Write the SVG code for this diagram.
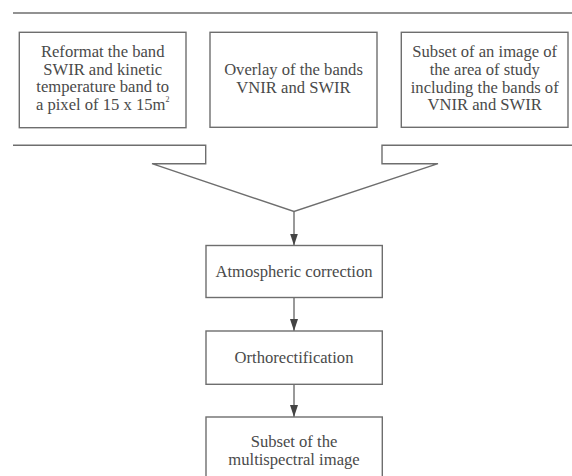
<svg xmlns="http://www.w3.org/2000/svg" width="572" height="476" viewBox="0 0 572 476">
<style>
.box{fill:#fff;stroke:#6e6e6e;stroke-width:1.4}
.ln{fill:none;stroke:#6e6e6e;stroke-width:1.4}
.t{font-family:"Liberation Serif","Times New Roman",serif;font-size:16.6px;fill:#4a4a4a;text-anchor:middle}
</style>
<defs>
<marker id="ah" viewBox="0 0 12 8" refX="12" refY="4" markerWidth="12" markerHeight="8" markerUnits="userSpaceOnUse" orient="auto">
<path d="M0,0 L12,4 L0,8 z" fill="#444"/>
</marker>
</defs>
<rect width="572" height="476" fill="#fff"/>
<g id="connectors">
<line class="ln" x1="13" y1="13" x2="572" y2="13"/>
<polyline class="ln" points="13,145.3 205.7,145.3 205.7,163.7 152,163.7 294,211.5 438,163.7 382,163.7 382,145.3 572,145.3"/>
<line class="ln" x1="294" y1="211.5" x2="294" y2="245.5" marker-end="url(#ah)"/>
<line class="ln" x1="294" y1="297.5" x2="294" y2="331" marker-end="url(#ah)"/>
<line class="ln" x1="294" y1="384.3" x2="294" y2="417" marker-end="url(#ah)"/>
</g>
<g id="n1">
<rect class="box" x="19.3" y="32.3" width="166.7" height="95.4"/>
<text class="t" x="102.7" y="57.3">Reformat the band</text>
<text class="t" x="102.7" y="74.8">SWIR and kinetic</text>
<text class="t" x="102.7" y="92.3">temperature band to</text>
<text class="t" x="102.7" y="109.8">a pixel of 15 x 15m<tspan font-size="8" dy="-8">2</tspan></text>
</g>
<g id="n2">
<rect class="box" x="210" y="32.3" width="167" height="95"/>
<text class="t" x="293.5" y="75">Overlay of the bands</text>
<text class="t" x="293.5" y="93">VNIR and SWIR</text>
</g>
<g id="n3">
<rect class="box" x="401.3" y="32.3" width="166.7" height="95"/>
<text class="t" x="484.7" y="57.3">Subset of an image of</text>
<text class="t" x="484.7" y="75">the area of study</text>
<text class="t" x="484.7" y="92.5">including the bands of</text>
<text class="t" x="484.7" y="110">VNIR and SWIR</text>
</g>
<g id="n4">
<rect class="box" x="206" y="245.5" width="176.3" height="52"/>
<text class="t" x="294" y="276.5">Atmospheric correction</text>
</g>
<g id="n5">
<rect class="box" x="206" y="331" width="176.3" height="53.3"/>
<text class="t" x="294" y="363.3">Orthorectification</text>
</g>
<g id="n6">
<rect class="box" x="206" y="417" width="176.3" height="70"/>
<text class="t" x="294" y="446.7">Subset of the</text>
<text class="t" x="294" y="465">multispectral image</text>
</g>
</svg>
